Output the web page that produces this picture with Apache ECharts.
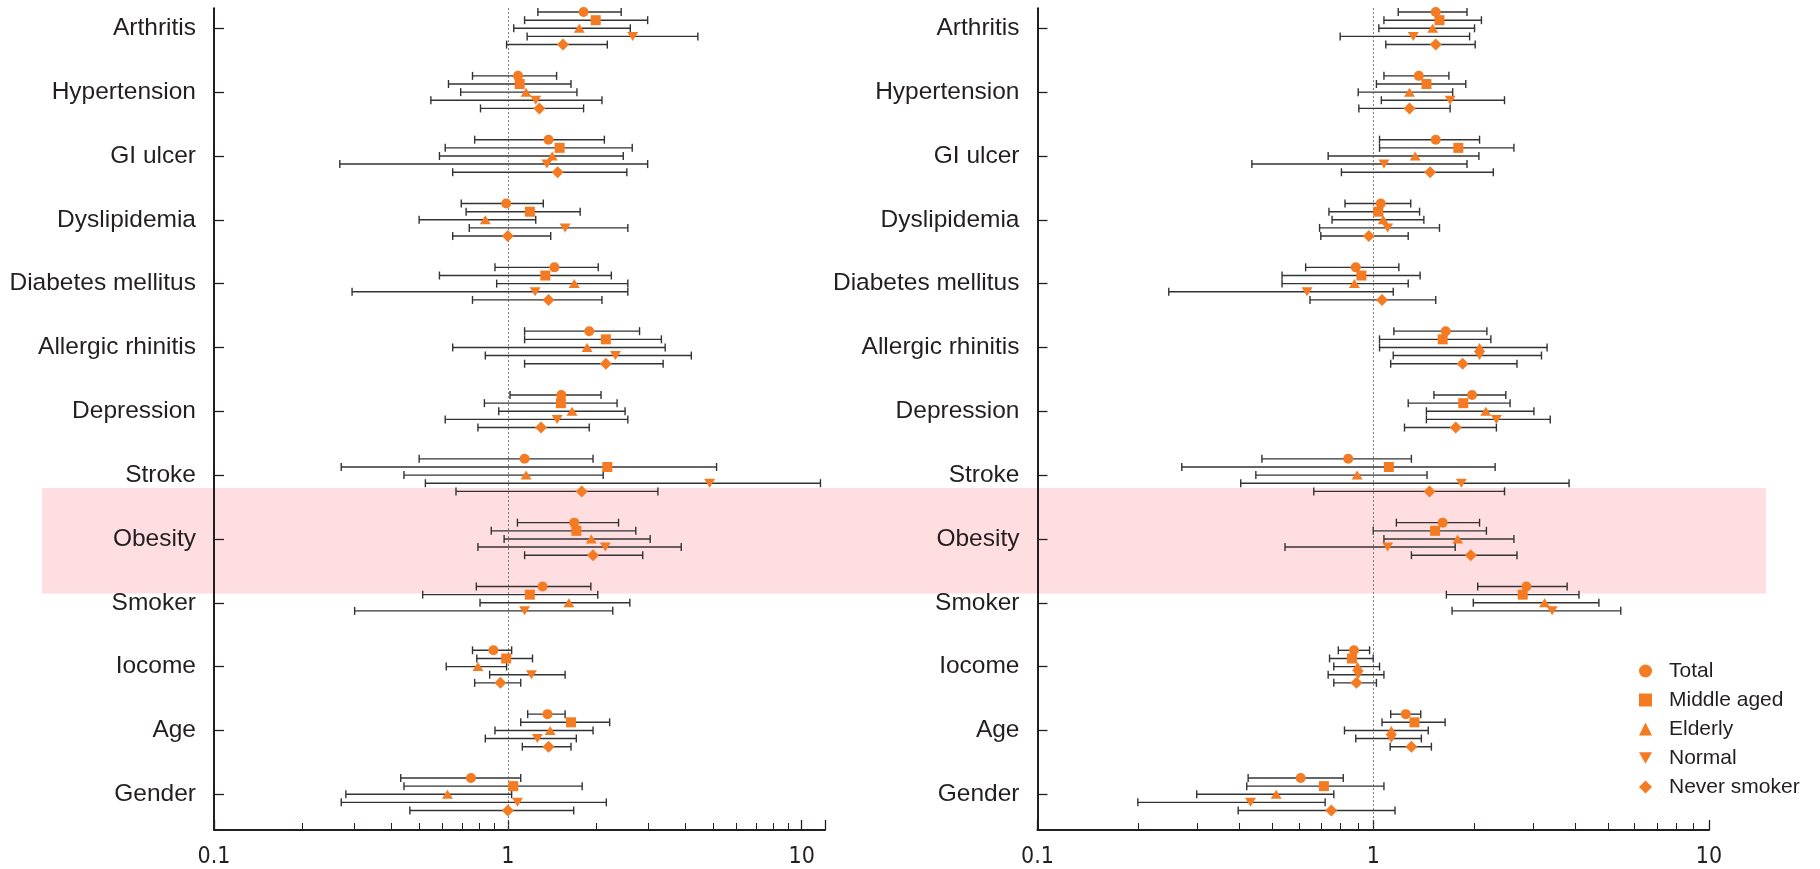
<!DOCTYPE html>
<html><head><meta charset="utf-8">
<script src="https://cdn.jsdelivr.net/npm/echarts@6/dist/echarts.min.js"></script>
<style>html,body{margin:0;padding:0;background:#fff}#c{width:1820px;height:869px}</style>
</head><body><div id="c"></div>
<script>
const categories = ['Arthritis','Hypertension','GI ulcer','Dyslipidemia','Diabetes mellitus','Allergic rhinitis','Depression','Stroke','Obesity','Smoker','Iocome','Age','Gender'];
const groups = ['Total','Middle aged','Elderly','Normal','Never smoker'];
const xTickLabels = ['0.1','1','10'];

// [odds ratio, lower CI, upper CI] per category — left panel
const leftTotal = [[1.81,1.265,2.43],[1.083,0.758,1.465],[1.375,0.771,2.13],[0.987,0.694,1.32],[1.44,0.904,2.03],[1.892,1.14,2.806],[1.52,1.017,2.075],[1.14,0.499,1.949],[1.682,1.078,2.38],[1.313,0.781,1.916],[0.893,0.758,1.03],[1.364,1.168,1.566],[0.749,0.432,1.106]];
const leftMiddle = [[1.99,1.14,2.99],[1.097,0.628,1.64],[1.5,0.612,2.65],[1.188,0.721,1.762],[1.341,0.585,2.25],[2.155,1.14,3.33],[1.515,0.832,2.353],[2.18,0.271,5.13],[1.71,0.878,2.725],[1.188,0.513,2.023],[0.987,0.784,1.213],[1.64,1.106,2.22],[1.043,0.443,1.79]];
const leftElderly = [[1.75,1.047,2.61],[1.153,0.691,1.718],[1.416,0.585,2.47],[0.838,0.499,1.244],[1.682,0.916,2.56],[1.86,0.649,3.43],[1.654,0.931,2.505],[1.153,0.443,2.11],[1.923,0.971,3.05],[1.613,0.804,2.6],[0.791,0.617,0.99],[1.393,0.904,1.949],[0.623,0.281,1.03]];
const leftNormal = [[2.66,1.163,4.43],[1.244,0.547,2.09],[1.358,0.268,2.99],[1.566,0.739,2.56],[1.238,0.295,2.56],[2.323,0.838,4.21],[1.471,0.612,2.56],[4.86,0.524,11.58],[2.146,0.791,3.89],[1.14,0.301,2.275],[1.203,0.867,1.566],[1.26,0.838,1.71],[1.078,0.271,2.163]];
const leftNever = [[1.54,0.99,2.18],[1.28,0.807,1.81],[1.477,0.649,2.54],[1.0,0.649,1.399],[1.375,0.758,2.09],[2.155,1.14,3.376],[1.297,0.791,1.892],[1.783,0.666,3.24],[1.949,1.14,2.877],null,[0.943,0.771,1.106],[1.375,1.12,1.64],[1.0,0.464,1.675]];

// right panel
const rightTotal = [[1.535,1.187,1.902],[1.367,1.076,1.68],[1.535,1.044,2.073],[1.053,0.824,1.293],[0.887,0.629,1.192],[1.644,1.152,2.18],[1.969,1.516,2.482],[0.842,0.466,1.299],[1.61,1.172,2.073],[2.858,2.047,3.78],[0.876,0.787,0.975],[1.25,1.127,1.385],[0.608,0.424,0.814]];
const rightMiddle = [[1.575,1.076,2.1],[1.44,1.022,1.886],[1.792,1.044,2.624],[1.035,0.738,1.374],[0.922,0.535,1.379],[1.61,1.044,2.24],[1.854,1.271,2.556],[1.113,0.269,2.307],[1.528,1.0,2.173],[2.787,1.651,4.1],[0.864,0.741,1.0],[1.327,1.062,1.637],[0.713,0.42,1.076]];
const rightElderly = [[1.503,1.039,2.003],[1.282,0.902,1.724],[1.333,0.734,2.064],[1.071,0.754,1.415],[0.879,0.535,1.271],[2.073,1.044,3.294],[2.164,1.44,3.01],[0.895,0.447,1.446],[1.784,1.076,2.624],[3.238,1.986,4.7],[0.898,0.763,1.044],[1.132,0.821,1.458],[0.514,0.298,0.763]];
const rightNormal = [[1.316,0.797,1.936],[1.694,1.057,2.46],[1.076,0.435,1.902],[1.104,0.692,1.575],[0.635,0.246,1.147],[2.073,1.147,3.17],[2.327,1.44,3.366],[1.83,0.403,3.83],[1.104,0.546,1.754],[3.41,1.717,5.46],[0.902,0.734,1.076],[1.132,0.887,1.391],[0.431,0.199,0.719]];
const rightNever = [[1.535,1.09,2.012],[1.282,0.906,1.694],[1.477,0.804,2.278],[0.97,0.698,1.271],[1.062,0.648,1.535],[1.846,1.127,2.68],[1.761,1.239,2.327],[1.471,0.665,2.46],[1.952,1.299,2.68],null,[0.891,0.763,1.022],[1.299,1.123,1.49],[0.75,0.396,1.161]];

const ORANGE = '#f47b22';
const INK = '#231f20';
const rowOffset = [-0.255, -0.127, 0, 0.127, 0.255];
const symbols = ['circle','rect','triangle','path://M0,0L10,0L5,8.66Z','diamond'];
const symbolSizes = [10,10,[11,9],[11,9],12];

const panels = [
  {sets:[leftTotal,leftMiddle,leftElderly,leftNormal,leftNever], xMax:12, grid:{left:214, width:611, top:8.3, height:821.7}},
  {sets:[rightTotal,rightMiddle,rightElderly,rightNormal,rightNever], xMax:10, grid:{left:1037.5, width:671.5, top:8.3, height:821.7}}
];

const labelFont = 'Liberation Sans, Arial, sans-serif';
const tickFont = 'Liberation Sans Narrow, DejaVu Sans Condensed, sans-serif';
const catIdx = categories.map((c,i)=>i);

const grids = [], xAxes = [], yAxes = [], series = [];
panels.forEach((p, pi) => {
  grids.push(p.grid);
  xAxes.push({
    type:'log', logBase:10, gridIndex:pi, min:0.1, max:p.xMax, position:'bottom',
    axisLine:{show:true, onZero:false, lineStyle:{color:INK, width:2}},
    axisTick:{show:true, inside:true, length:10, lineStyle:{color:INK, width:1.3}},
    minorTick:{show:true, splitNumber:9, length:7, lineStyle:{color:INK, width:1}},
    splitLine:{show:false}, minorSplitLine:{show:false},
    axisLabel:{margin:16, fontSize:23, fontFamily:tickFont, color:INK,
      formatter:(v)=>{ const t = xTickLabels.find(s=>Math.abs(parseFloat(s)-v)<1e-9); return t===undefined?'':t; }}
  });
  yAxes.push({
    type:'value', gridIndex:pi, inverse:true, min:-0.3133, max:12.56,
    axisLine:{show:true, onZero:false, lineStyle:{color:INK, width:2}},
    axisTick:{show:true, inside:true, length:10, customValues:catIdx, lineStyle:{color:INK, width:1.3}},
    splitLine:{show:false},
    axisLabel:{customValues:catIdx, margin:18, fontSize:24.5, fontFamily:labelFont, color:INK,
      formatter:(v)=>categories[Math.round(v)]}
  });
  p.sets.forEach((arr, gi) => {
    const bars = [], pts = [];
    arr.forEach((d, ci) => {
      if (!d) return;
      const y = ci + rowOffset[gi];
      pts.push([d[0], y]);
      bars.push([d[1], d[2], y]);
    });
    series.push({
      type:'custom', xAxisIndex:pi, yAxisIndex:pi, z:3, silent:true,
      encode:{x:[0,1], y:2},
      renderItem:(params, api)=>{
        const y = api.value(2);
        const a = api.coord([api.value(0), y]);
        const b = api.coord([api.value(1), y]);
        const h = 4;
        const style = {stroke:'#333333', lineWidth:1.4};
        return {type:'group', children:[
          {type:'line', shape:{x1:a[0],y1:a[1],x2:b[0],y2:b[1]}, style},
          {type:'line', shape:{x1:a[0],y1:a[1]-h,x2:a[0],y2:a[1]+h}, style},
          {type:'line', shape:{x1:b[0],y1:b[1]-h,x2:b[0],y2:b[1]+h}, style}
        ]};
      },
      data:bars
    });
    const s = {
      type:'scatter', name:groups[gi], xAxisIndex:pi, yAxisIndex:pi, z:5,
      symbol:symbols[gi], symbolSize:symbolSizes[gi],
      itemStyle:{color:ORANGE, opacity:1},
      data:pts
    };
    if (gi === 0) {
      s.markLine = {silent:true, symbol:['none','none'], label:{show:false},
        lineStyle:{color:'#555', width:1, type:[1.5,2.5]}, emphasis:{disabled:true},
        data:[{xAxis:1}]};
    }
    series.push(s);
  });
});

const chart = echarts.init(document.getElementById('c'), null, {renderer:'canvas'});
chart.setOption({
  animation:false,
  backgroundColor:'#fff',
  graphic:{elements:[{type:'rect', z:-10, silent:true,
    shape:{x:42, y:488, width:1724, height:105.5}, style:{fill:'#ffdee1'}}]},
  legend:{
    orient:'vertical', left:1639, top:660, itemWidth:13, itemHeight:13, itemGap:7, padding:0,
    data:groups.map((g,i)=>({name:g, icon:symbols[i]})),
    textStyle:{fontSize:21, lineHeight:22, fontFamily:labelFont, color:INK, padding:[0,0,0,12]},
    selectedMode:false
  },
  grid:grids, xAxis:xAxes, yAxis:yAxes, series
});
</script></body></html>
